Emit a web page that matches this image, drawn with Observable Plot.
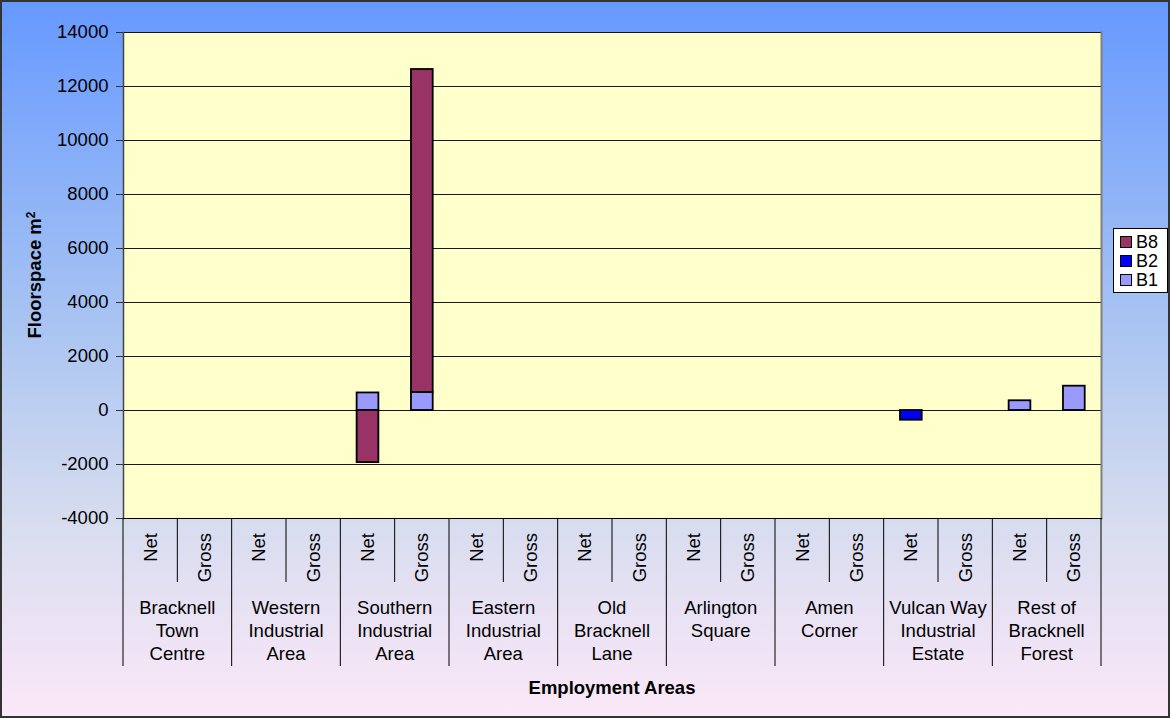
<!DOCTYPE html>
<html>
<head>
<meta charset="utf-8">
<script src="https://cdn.jsdelivr.net/npm/d3@7"></script>
<script src="https://cdn.jsdelivr.net/npm/@observablehq/plot@0.6"></script>
<style>
  html, body { margin: 0; padding: 0; }
  #chart {
    position: relative; width: 1170px; height: 718px; box-sizing: border-box;
    border: 2px solid #333;
    background: linear-gradient(to bottom, #6699ff 0%, #a9c4f2 45%, #d6dcef 72%, #fbe8f8 100%);
    font-family: "Liberation Sans", Arial, sans-serif; overflow: hidden;
  }
  #chart svg { position: absolute; left: -2px; top: -2px; max-width: none !important; width: 1170px; height: 718px; }
  #legend {
    position: absolute; left: 1111px; top: 226px; width: 55px; height: 65px;
    background: #fff; border: 1px solid #000; box-sizing: border-box;
    font-size: 18px; color: #000;
  }
  #legend .row { position: absolute; left: 6px; height: 18px; line-height: 18px; white-space: nowrap; }
  #legend .sw { display: inline-block; width: 10px; height: 10px; border: 1px solid #000; margin-right: 4px; vertical-align: 0px; }
</style>
</head>
<body>
<div id="chart"><div id="legend"></div></div>
<script>
const areas = [
  ["Bracknell", "Town", "Centre"],
  ["Western", "Industrial", "Area"],
  ["Southern", "Industrial", "Area"],
  ["Eastern", "Industrial", "Area"],
  ["Old", "Bracknell", "Lane"],
  ["Arlington", "Square"],
  ["Amen", "Corner"],
  ["Vulcan Way", "Industrial", "Estate"],
  ["Rest of", "Bracknell", "Forest"]
];
const types = ["Net", "Gross"];
// values per slot: area0 Net, area0 Gross, area1 Net, ...
const B1 = [0, 0, 0, 0, 650, 670, 0, 0, 0, 0, 0, 0, 0, 0, 0, 0, 360, 900];
const B2 = [0, 0, 0, 0, 0, 0, 0, 0, 0, 0, 0, 0, 0, 0, -360, 0, 0, 0];
const B8 = [0, 0, 0, 0, -1930, 11960, 0, 0, 0, 0, 0, 0, 0, 0, 0, 0, 0, 0];
const seriesNames = ["B8", "B2", "B1"];
const seriesColors = ["#993366", "#0000ff", "#9999ff"];
const yTicks = [-4000, -2000, 0, 2000, 4000, 6000, 8000, 10000, 12000, 14000];

const keys = [];
areas.forEach((a, i) => types.forEach(t => keys.push(i + "|" + t)));
const rows = [];
const seriesVals = {B1, B2, B8};
keys.forEach((k, j) => {
  for (const s of ["B1", "B2", "B8"]) {
    if (seriesVals[s][j] !== 0) rows.push({key: k, series: s, value: seriesVals[s][j]});
  }
});

const W = 1170, H = 718, ML = 123, MR = 69, MT = 32, MB = 200;
const FONT = "18.5px";

const plot = Plot.plot({
  width: W, height: H,
  marginLeft: ML, marginRight: MR, marginTop: MT, marginBottom: MB,
  style: {background: "transparent", fontFamily: "'Liberation Sans', Arial, sans-serif", fontSize: FONT, color: "#000"},
  x: {type: "band", domain: keys, padding: 0, round: false, axis: null},
  y: {domain: [-4000, 14000], axis: null},
  color: {domain: seriesNames, range: seriesColors},
  marks: [
    Plot.frame({fill: "#ffffcc", stroke: null}),
    Plot.gridY(yTicks, {stroke: "#000", strokeOpacity: 0.9, strokeWidth: 1}),
    Plot.frame({anchor: "right", stroke: "#808080", strokeWidth: 2}),
    Plot.axisY(yTicks, {label: null, tickSize: 7, tickPadding: 8, tickFormat: d => String(d), fontSize: FONT, stroke: "#333"}),
    Plot.frame({anchor: "left", stroke: "#444", strokeWidth: 1.5}),
    Plot.frame({anchor: "bottom", stroke: "#000", strokeWidth: 1}),
    Plot.barY(rows, {
      x: "key", y: "value", fill: "series", order: ["B1", "B2", "B8"],
      stroke: "#000", strokeWidth: 1.8, insetLeft: 16.3, insetRight: 16.3
    })
  ]
});

const svg = d3.select(plot);
const xs = plot.scale("x");
const bw = xs.bandwidth;
const yBottom = H - MB;
const g = svg.append("g").attr("font-family", "'Liberation Sans', Arial, sans-serif").attr("fill", "#000");

keys.forEach((k, j) => {
  const x0 = xs.apply(k);
  const isGroupStart = j % 2 === 0;
  g.append("line")
    .attr("x1", x0).attr("x2", x0)
    .attr("y1", yBottom).attr("y2", isGroupStart ? yBottom + 148 : yBottom + 64)
    .attr("stroke", "#000").attr("stroke-width", 1);
  const cx = x0 + bw / 2;
  g.append("text")
    .attr("transform", `translate(${cx},${yBottom + 15}) rotate(-90)`)
    .attr("text-anchor", "end").attr("dy", "0.35em")
    .attr("font-size", FONT)
    .text(types[j % 2]);
});
const xEnd = xs.apply(keys[keys.length - 1]) + bw;
g.append("line").attr("x1", xEnd).attr("x2", xEnd).attr("y1", yBottom).attr("y2", yBottom + 148)
  .attr("stroke", "#000").attr("stroke-width", 1);

areas.forEach((lines, i) => {
  const cx = xs.apply(i + "|Net") + bw;
  const t = g.append("text").attr("text-anchor", "middle").attr("font-size", FONT);
  lines.forEach((ln, li) => {
    t.append("tspan").attr("x", cx).attr("y", yBottom + 96 + li * 23).text(ln);
  });
});

// axis titles
g.append("text")
  .attr("x", (ML + W - MR) / 2).attr("y", 694)
  .attr("text-anchor", "middle").attr("font-weight", "bold").attr("font-size", "18.5px")
  .text("Employment Areas");
const yt = g.append("text")
  .attr("transform", `translate(41,${(MT + yBottom) / 2}) rotate(-90)`)
  .attr("text-anchor", "middle").attr("font-weight", "bold").attr("font-size", "18.5px");
yt.append("tspan").text("Floorspace m");
yt.append("tspan").attr("dy", "-0.5em").attr("font-size", "12px").text("2");

document.getElementById("chart").appendChild(plot);

const legend = document.getElementById("legend");
seriesNames.forEach((s, i) => {
  const r = document.createElement("div");
  r.className = "row";
  r.style.top = (4 + i * 19) + "px";
  r.innerHTML = `<span class="sw" style="background:${seriesColors[i]}"></span>${s}`;
  legend.appendChild(r);
});
document.getElementById("chart").appendChild(legend);
</script>
</body>
</html>
